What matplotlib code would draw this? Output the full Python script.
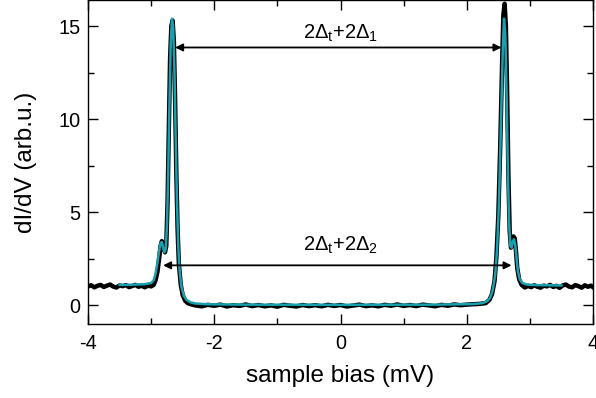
import matplotlib
matplotlib.use('Agg')
import matplotlib.pyplot as plt

plt.rcParams['font.family'] = ['Liberation Sans', 'DejaVu Sans']
plt.rcParams['mathtext.fontset'] = 'custom'
plt.rcParams['mathtext.rm'] = 'Liberation Sans'
plt.rcParams['mathtext.it'] = 'Liberation Sans:italic'
plt.rcParams['mathtext.bf'] = 'Liberation Sans:bold'

# measured dI/dV (black)
bias_meas = [-4.00, -3.95, -3.90, -3.85, -3.80, -3.75, -3.70, -3.65, -3.60, -3.55,
             -3.50, -3.45, -3.40, -3.35, -3.30, -3.25, -3.20, -3.15, -3.10, -3.05,
             -3.00, -2.96, -2.93, -2.90, -2.87, -2.85, -2.83, -2.81, -2.78, -2.76,
             -2.74, -2.72, -2.70, -2.68, -2.66, -2.64, -2.62, -2.60, -2.58, -2.56,
             -2.53, -2.50, -2.46, -2.42, -2.36, -2.30,
             -2.20, -2.10, -2.00, -1.90, -1.80, -1.70, -1.60, -1.50, -1.40, -1.30,
             -1.20, -1.10, -1.00, -0.90, -0.80, -0.70, -0.60, -0.50, -0.40, -0.30,
             -0.20, -0.10, 0.00, 0.10, 0.20, 0.30, 0.40, 0.50, 0.60, 0.70,
             0.80, 0.90, 1.00, 1.10, 1.20, 1.30, 1.40, 1.50, 1.60, 1.70,
             1.80, 1.90, 2.00, 2.10, 2.20,
             2.30, 2.36, 2.40, 2.44, 2.47, 2.50, 2.53, 2.56, 2.58, 2.60,
             2.62, 2.64, 2.66, 2.68, 2.70, 2.72, 2.74, 2.76, 2.78, 2.80,
             2.83, 2.87,
             2.92, 2.97, 3.02, 3.07, 3.12, 3.17, 3.22, 3.27, 3.32, 3.37,
             3.42, 3.47, 3.52, 3.57, 3.62, 3.67, 3.72, 3.77, 3.82, 3.87,
             3.92, 3.97, 4.00]
didv_meas = [1.02, 1.08, 0.97, 1.05, 1.10, 0.99, 1.06, 1.12, 1.01, 0.96,
             1.07, 1.03, 1.09, 0.98, 1.04, 1.10, 1.00, 1.05, 0.97, 1.06,
             1.02, 1.10, 1.35, 1.80, 2.60, 3.20, 3.45, 3.20, 2.85, 3.20,
             5.50, 9.50, 13.2, 15.0, 15.3, 14.2, 11.0, 7.0, 4.0, 2.2,
             1.10, 0.55, 0.25, 0.12, 0.05, 0.00,
             -0.05, 0.03, -0.02, 0.04, -0.06, 0.01, -0.03, 0.05, -0.04, 0.02,
             -0.05, 0.00, -0.07, 0.03, -0.02, -0.06, 0.02, -0.04, 0.01, -0.05,
             0.03, -0.03, 0.02, -0.06, -0.01, 0.04, -0.04, 0.00, -0.05, 0.03,
             -0.02, 0.05, -0.03, 0.02, -0.04, 0.04, 0.00, -0.05, 0.03, -0.02,
             0.05, 0.01, 0.04, 0.06, 0.08,
             0.12, 0.30, 0.60, 1.30, 2.60, 4.80, 8.50, 13.0, 15.6, 16.2,
             15.0, 11.5, 7.0, 4.0, 3.1, 3.3, 3.7, 3.6, 2.9, 2.0,
             1.40, 1.10,
             0.96, 1.04, 0.98, 1.08, 1.00, 0.95, 1.06, 1.02, 1.10, 0.99,
             1.05, 0.94, 1.07, 1.12, 1.01, 0.97, 1.09, 1.03, 0.95, 1.08,
             1.00, 1.06, 0.98]

# fit (teal)
bias_fit = [-3.50, -3.30, -3.10, -3.00, -2.96, -2.93, -2.90, -2.87, -2.85, -2.83,
            -2.81, -2.79, -2.77, -2.75, -2.73, -2.71, -2.69, -2.67, -2.65, -2.63,
            -2.61, -2.59, -2.57, -2.55, -2.52, -2.48, -2.44, -2.38, -2.30, -2.10,
            -1.50, 0.00, 1.50, 2.10, 2.25, 2.32, 2.37, 2.41, 2.45, 2.48,
            2.51, 2.54, 2.57, 2.59, 2.61, 2.63, 2.65, 2.67, 2.69, 2.71,
            2.73, 2.75, 2.77, 2.79, 2.81, 2.84, 2.88, 2.95, 3.10, 3.30, 3.50]
didv_fit = [1.10, 1.11, 1.14, 1.20, 1.35, 1.70, 2.30, 3.00, 3.35, 3.40,
            3.10, 2.85, 3.00, 4.20, 7.00, 10.8, 14.0, 15.4, 14.9, 12.5,
            8.80, 5.50, 3.20, 1.90, 1.00, 0.50, 0.30, 0.17, 0.10, 0.06,
            0.04, 0.03, 0.04, 0.07, 0.12, 0.22, 0.40, 0.80, 1.60, 3.00,
            5.50, 9.50, 13.6, 15.4, 14.6, 11.5, 7.50, 4.50, 3.20, 3.10,
            3.45, 3.55, 3.20, 2.50, 1.85, 1.40, 1.20, 1.12, 1.09, 1.08, 1.07]

# gap arrows: (left, right, arrow height, label height, label)
gap_arrows = [(-2.62, 2.55, 13.85, 14.3, r'2$\Delta_\mathrm{t}$+2$\Delta_\mathrm{1}$'),
              (-2.81, 2.71, 2.15, 2.95, r'2$\Delta_\mathrm{t}$+2$\Delta_\mathrm{2}$')]

fig = plt.figure(figsize=(5.96, 3.98), dpi=100)
ax = fig.add_axes([88/596, 1 - 324/398, (593 - 88)/596, 324/398])

ax.plot(bias_meas, didv_meas, color='black', lw=3.2, solid_joinstyle='round')
ax.plot(bias_fit, didv_fit, color='#1a9fae', lw=1.8)

for x0, x1, yy, ylab, lab in gap_arrows:
    ax.annotate('', xy=(x0, yy), xytext=(x1, yy),
                arrowprops=dict(arrowstyle='<|-|>', color='black', lw=1.3,
                                mutation_scale=11, shrinkA=0, shrinkB=0))
    ax.text(0, ylab, lab, ha='center', va='baseline', fontsize=14.5)

ax.set_xlim(-4, 4)
ax.set_ylim(-1, 16.4)
ax.set_xticks([-4, -2, 0, 2, 4])
ax.set_xticks([-3, -1, 1, 3], minor=True)
ax.set_yticks([0, 5, 10, 15])
ax.set_yticks([2.5, 7.5, 12.5], minor=True)
ax.set_xticklabels(['-4', '-2', '0', '2', '4'])
ax.tick_params(which='both', direction='in', top=True, right=True, labelsize=14.3, width=1)
ax.tick_params(which='major', length=7)
ax.tick_params(which='minor', length=4)
ax.tick_params(axis='x', pad=7)
ax.tick_params(axis='y', pad=5.5)
for s in ax.spines.values():
    s.set_linewidth(1.0)

ax.set_xlabel('sample bias (mV)', fontsize=17.5, labelpad=9)
ax.set_ylabel('dI/dV (arb.u.)', fontsize=17.5, labelpad=15)

fig.savefig('out.png', dpi=100)
